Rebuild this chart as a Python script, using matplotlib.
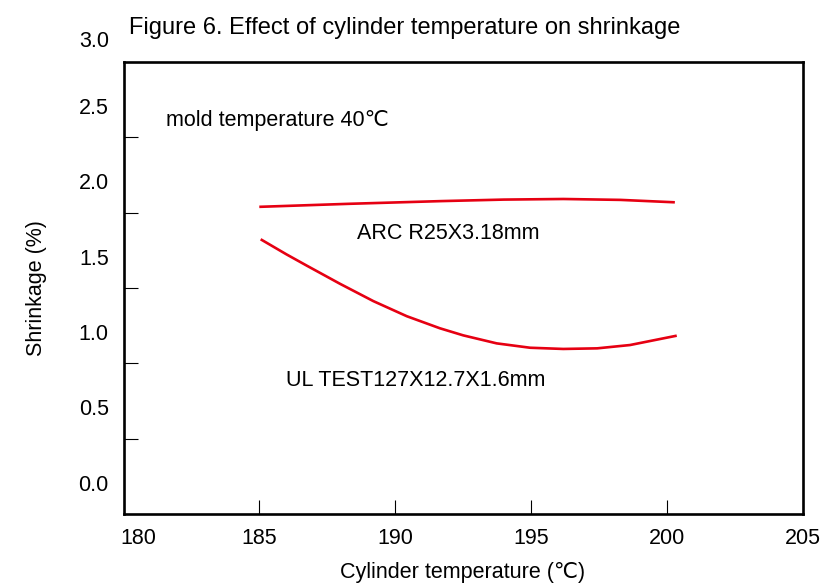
import numpy as np
import matplotlib
matplotlib.use('Agg')
import matplotlib.pyplot as plt
from matplotlib.transforms import ScaledTranslation

plt.rcParams['font.family'] = ['Liberation Sans', 'DejaVu Sans']

# cylinder temperature (C) vs shrinkage (%)
arc_temp = [185.0, 188.3, 191.7, 194.0, 196.2, 198.3, 200.3]
arc_shrink = [1.83, 1.85, 1.868, 1.878, 1.882, 1.876, 1.86]

ul_temp = [185.05, 186.0, 186.75, 187.97, 189.2, 190.43, 191.65, 192.51,
           193.74, 194.97, 196.19, 197.44, 198.65, 199.87, 200.37]
ul_shrink = [1.615, 1.515, 1.44, 1.32, 1.205, 1.105, 1.025, 0.978,
             0.925, 0.896, 0.888, 0.892, 0.914, 0.958, 0.976]

x_ticks = [180, 185, 190, 195, 200, 205]
y_labels = [0.0, 0.5, 1.0, 1.5, 2.0, 2.5]
y_marks = [0.292, 0.792, 1.292, 1.792, 2.292]

red = '#e60012'
fs = 15.5

fig = plt.figure(figsize=(8.22, 5.83), dpi=100)
ax = fig.add_axes([123.5 / 822, 1 - 514.3 / 583, 679 / 822, 452.6 / 583])

ax.plot(arc_temp, arc_shrink, color=red, lw=1.9, solid_capstyle='butt')
ax.plot(ul_temp, ul_shrink, color=red, lw=1.9, solid_capstyle='butt')

ax.set_xlim(180, 205)
ax.set_ylim(-0.208, 2.792)

for s in ax.spines.values():
    s.set_linewidth(1.9)

ax.set_xticks(x_ticks)
ax.set_xticklabels([str(t) for t in x_ticks])
ax.tick_params(axis='x', direction='in', length=10, width=0.8,
               labelsize=fs, pad=10)

# value labels and the short marks on the left spine are not aligned
ax.set_yticks(y_labels)
ax.set_yticklabels(['%.1f' % v for v in y_labels])
ax.tick_params(axis='y', which='major', length=0, labelsize=fs, pad=10.6)
ax.set_yticks(y_marks, minor=True)
ax.tick_params(axis='y', which='minor', direction='in', length=10, width=0.8)
ax.annotate('3.0', xy=(0, 2.925), xycoords=('axes fraction', 'data'),
            xytext=(-10.6, 0), textcoords='offset points',
            ha='right', va='center', fontsize=fs, annotation_clip=False)

# nudge the first x label off the corner
lbl = ax.get_xticklabels()[0]
lbl.set_transform(lbl.get_transform() + ScaledTranslation(15 / 100, 0, fig.dpi_scale_trans))

ax.set_xlabel('Cylinder temperature (\u2103)', fontsize=fs, labelpad=9)
ax.set_ylabel('Shrinkage (%)', fontsize=fs, labelpad=23)

ax.text(181.56, 2.40, 'mold temperature 40\u2103', fontsize=fs, va='center')
ax.text(188.58, 1.65, 'ARC R25X3.18mm', fontsize=fs, va='center')
ax.text(186.0, 0.68, 'UL TEST127X12.7X1.6mm', fontsize=fs, va='center')

fig.text(129 / 822, 1 - 28 / 583, 'Figure 6. Effect of cylinder temperature on shrinkage',
         fontsize=17, va='center', ha='left')

fig.savefig('out.png', dpi=100)
